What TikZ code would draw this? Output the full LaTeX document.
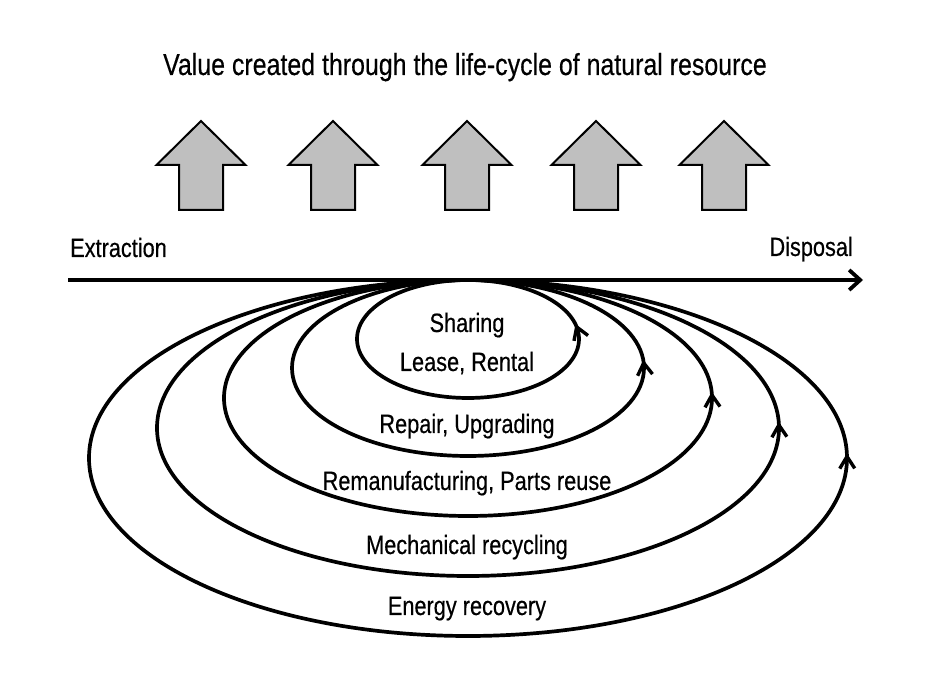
\documentclass[tikz,border=0pt]{standalone}
\usepackage{fontspec}
\setmainfont[FakeStretch=0.82,FakeBold=0.4]{Liberation Sans}
\usetikzlibrary{arrows.meta}
\begin{document}
\begin{tikzpicture}[x=1pt,y=1pt,
  lbl/.style={anchor=base,inner sep=0pt,font=\fontsize{26.5}{30}\selectfont},
  loopline/.style={line width=3.7pt},
  tipline/.style={line width=3.4pt,line join=miter,line cap=butt},
  blockarrow/.style={draw=black,line width=2pt,fill=gray!50!white,line join=miter}
]
\useasboundingbox (0,0) rectangle (930,680);
% title
\node[lbl,font=\fontsize{30.4}{34}\selectfont] (title) at (465,605) {Value created through the life-cycle of natural resource};
% block arrows
\foreach \cx in {201,333,467,596,724}{
  \draw[blockarrow] (\cx,559) -- (\cx+44.5,515) -- (\cx+22,515) -- (\cx+22,470)
     -- (\cx-22,470) -- (\cx-22,515) -- (\cx-44.5,515) -- cycle;
}
% axis
\coordinate (ax0) at (68,400);
\coordinate (ax1) at (863,400);
\node[lbl,anchor=base west] (extr) at (70,423) {Extraction};
\node[lbl,anchor=base east] (disp) at (853,424) {Disposal};
% ellipses
\draw[loopline] (468+111,341) arc[start angle=0,end angle=360,x radius=111,y radius=59];
\draw[loopline] (468+176,312) arc[start angle=0,end angle=360,x radius=176,y radius=88];
\draw[loopline] (468+244,282) arc[start angle=0,end angle=360,x radius=244,y radius=118];
\draw[loopline] (468+311,252) arc[start angle=0,end angle=360,x radius=311,y radius=148];
\draw[loopline] (468+379,222) arc[start angle=0,end angle=360,x radius=379,y radius=178];
% tips on loops
\coordinate (t1) at (576.7,353);
\coordinate (t2) at (643.7,317);
\coordinate (t3) at (711.9,285);
\coordinate (t4) at (778.9,255);
\coordinate (t5) at (847,223.5);
\foreach \t/\ang in {t1/111,t2/96.5,t3/93,t4/92.4,t5/91}{
  \draw[tipline,shift={(\t)},rotate=\ang] (-12,7.5) -- (0,0) -- (-12,-7.5);
}
\draw[line width=4.3pt,-{Straight Barb[length=11pt,width=20pt,line width=3.8pt]}] (ax0) -- (ax1);
% labels
\node[lbl] (share) at (467,348) {Sharing};
\node[lbl] (lease) at (467,309) {Lease, Rental};
\node[lbl] (repair) at (467,247) {Repair, Upgrading};
\node[lbl] (reman) at (467,190) {Remanufacturing, Parts reuse};
\node[lbl] (mech) at (467,126) {Mechanical recycling};
\node[lbl] (energy) at (467,65) {Energy recovery};
\end{tikzpicture}
\end{document}
